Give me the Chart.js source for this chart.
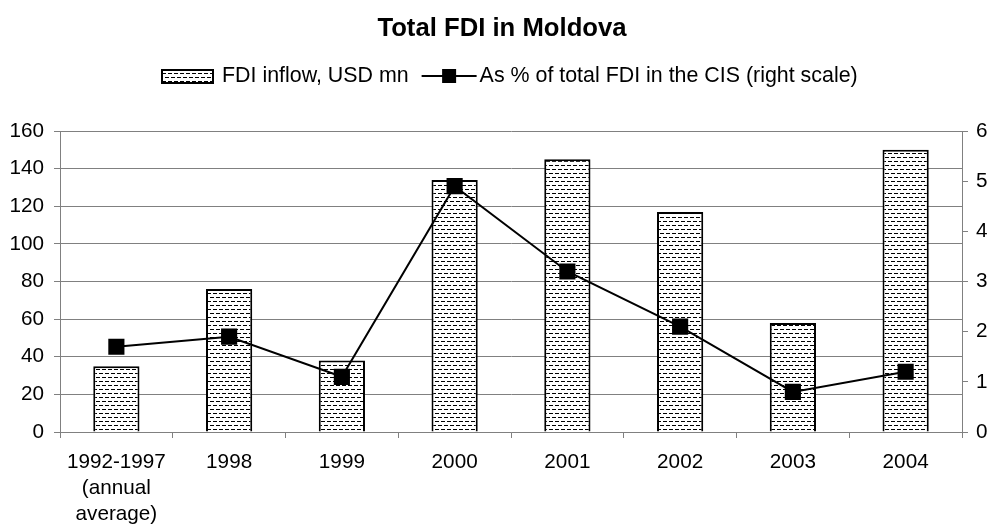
<!DOCTYPE html>
<html>
<head>
<meta charset="utf-8">
<script src="https://cdn.jsdelivr.net/npm/chart.js@4"></script>
<style>
html,body{margin:0;padding:0;background:#fff;}
#wrap{width:991px;height:526px;}
</style>
</head>
<body>
<div id="wrap"><canvas id="c" width="991" height="526"></canvas></div>
<script>
const chartTitle = "Total FDI in Moldova";
const categories = [["1992-1997","(annual","average)"],"1998","1999","2000","2001","2002","2003","2004"];
const fdiInflow = [35, 76, 38, 134, 145, 117, 58, 150];
const cisShare = [1.7, 1.9, 1.1, 4.9, 3.2, 2.1, 0.8, 1.2];
const seriesNames = ["FDI inflow, USD mn", "As % of total FDI in the CIS (right scale)"];
const leftTicks = {min: 0, max: 160, step: 20};
const rightTicks = {min: 0, max: 6, step: 1};

const FONT = "'Liberation Sans', Arial, sans-serif";
const FS = 20.7;
const LFS = 21.4;

function makePattern() {
  const p = document.createElement('canvas');
  p.width = 6; p.height = 8;
  const g = p.getContext('2d');
  g.fillStyle = '#fff'; g.fillRect(0,0,6,8);
  g.fillStyle = '#000';
  g.fillRect(0,1,4,1);
  g.fillRect(3,5,3,1);
  g.fillRect(0,5,1,1);
  return document.getElementById('c').getContext('2d').createPattern(p,'repeat');
}
const pattern = makePattern();

const overlay = {
  id: 'overlay',
  afterDraw(chart) {
    const ctx = chart.ctx;
    ctx.save();
    // title
    ctx.fillStyle = '#000';
    ctx.font = "bold 25.7px " + FONT;
    ctx.textAlign = 'center';
    ctx.textBaseline = 'middle';
    ctx.fillText(chartTitle, 502, 29);
    // legend
    ctx.font = LFS + "px " + FONT;
    ctx.textAlign = 'left';
    const w1 = ctx.measureText(seriesNames[0]).width;
    const boxW = 51, gap1 = 9, gapMid = 13, lineW = 55, gap2 = 3;
    let x = 162;
    const y = 76;
    ctx.fillStyle = pattern;
    ctx.fillRect(x, y-6, boxW, 13);
    ctx.strokeStyle = '#000'; ctx.lineWidth = 2;
    ctx.strokeRect(x, y-6, boxW, 13);
    x += boxW + gap1;
    ctx.fillStyle = '#000';
    ctx.fillText(seriesNames[0], x, y);
    x += w1 + gapMid;
    ctx.beginPath(); ctx.lineWidth = 2;
    ctx.moveTo(x, y); ctx.lineTo(x+lineW, y); ctx.stroke();
    ctx.fillRect(x + lineW/2 - 7, y - 7, 14, 14);
    x += lineW + gap2;
    ctx.fillText(seriesNames[1], x, y);
    ctx.restore();
  }
};

new Chart(document.getElementById('c'), {
  data: {
    labels: categories,
    datasets: [
      {
        type: 'line',
        label: seriesNames[1],
        data: cisShare,
        yAxisID: 'y2',
        borderColor: '#000',
        backgroundColor: '#000',
        borderWidth: 2,
        pointStyle: 'rect',
        pointRadius: 10,
        pointHoverRadius: 10,
        tension: 0,
        order: 0
      },
      {
        type: 'bar',
        label: seriesNames[0],
        data: fdiInflow,
        yAxisID: 'y',
        backgroundColor: pattern,
        borderColor: '#000',
        borderWidth: 2,
        barPercentage: 0.41,
        categoryPercentage: 1.0,
        order: 1
      }
    ]
  },
  options: {
    responsive: false,
    animation: false,
    events: [],
    layout: {padding: {top: 131, left: 0, right: 0, bottom: 0}},
    plugins: {
      legend: {display: false},
      title: {display: false},
      tooltip: {enabled: false}
    },
    scales: {
      x: {
        offset: true,
        grid: {display: true, drawOnChartArea: false, offset: true, color: '#808080', tickLength: 6, lineWidth: 1},
        border: {color: '#808080', width: 1},
        ticks: {color: '#000', font: {family: FONT, size: FS, lineHeight: 1.26}, padding: 11, maxRotation: 0, autoSkip: false},
        afterFit(s) { s.height = 94; }
      },
      y: {
        position: 'left',
        min: leftTicks.min, max: leftTicks.max,
        grid: {color: '#808080', tickLength: 6, lineWidth: 1},
        border: {color: '#808080', width: 1},
        ticks: {stepSize: leftTicks.step, color: '#000', font: {family: FONT, size: FS}, padding: 10},
        afterFit(s) { s.width = 60; }
      },
      y2: {
        position: 'right',
        min: rightTicks.min, max: rightTicks.max,
        grid: {drawOnChartArea: false, color: '#808080', tickLength: 6, lineWidth: 1},
        border: {color: '#808080', width: 1},
        ticks: {stepSize: rightTicks.step, color: '#000', font: {family: FONT, size: FS}, padding: 8},
        afterFit(s) { s.width = 29; }
      }
    }
  },
  plugins: [overlay]
});
</script>
</body>
</html>
